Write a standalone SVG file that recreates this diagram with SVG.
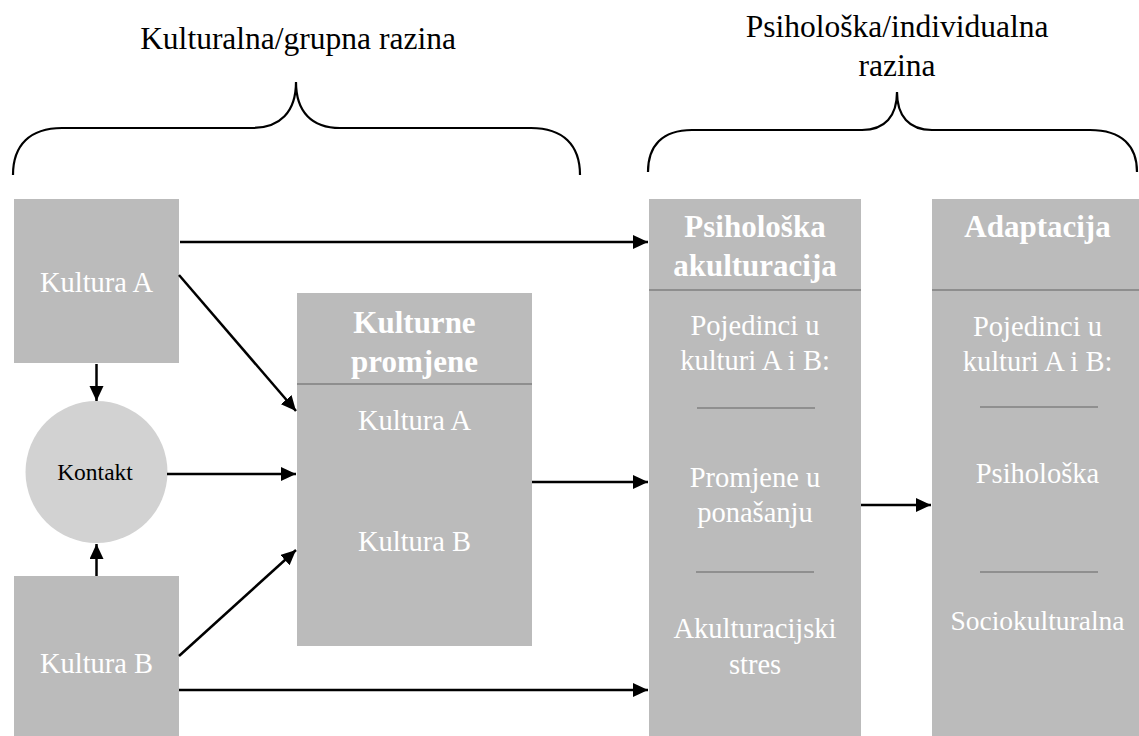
<svg xmlns="http://www.w3.org/2000/svg" width="1139" height="736" viewBox="0 0 1139 736" font-family="Liberation Serif, 'Times New Roman', serif">
<style>
.box{fill:#BBBBBB}
.circ{fill:#D2D2D2}
.div{stroke:#7F7F7F;stroke-width:1.5}
.sep{stroke:#808080;stroke-width:1.5}
.t{font-size:28.5px;fill:#FFFFFF;text-anchor:middle}
.b{font-size:31px;font-weight:bold;fill:#FFFFFF;text-anchor:middle}
.title{font-size:31.5px;fill:#000000;text-anchor:middle}
.k{font-size:23.5px;fill:#000000;text-anchor:middle}
.brace{fill:none;stroke:#000000;stroke-width:2.2}
.arr{fill:none;stroke:#000000;stroke-width:2.5;marker-end:url(#ah)}
</style>
<defs>
<marker id="ah" markerUnits="userSpaceOnUse" markerWidth="16" markerHeight="15" refX="15" refY="7" orient="auto">
<path d="M0,0 L15,7 L0,14 z" fill="#000000"/>
</marker>
</defs>
<rect width="1139" height="736" fill="#FFFFFF"/>

<g id="titles">
<text class="title" x="298" y="49">Kulturalna/grupna razina</text>
<text class="title" x="897" y="37">Psihološka/individualna</text>
<text class="title" x="897" y="76">razina</text>
<path class="brace" d="M13,175 C13,145 30,128 62,128 L252,128 C280,128 296,112 296,82 C296,112 312,128 340,128 L531,128 C563,128 580,145 580,175"/>
<path class="brace" d="M648,172 C648,146 662,130 692,130 L862,130 C885,130 897,116 897,92 C897,116 909,130 932,130 L1090,130 C1122,130 1137,146 1137,172"/>
</g>

<g id="kultura-a">
<rect class="box" x="14" y="199" width="165" height="164"/>
<text class="t" x="96.5" y="292">Kultura A</text>
</g>

<g id="kontakt">
<circle class="circ" cx="96.5" cy="472" r="71"/>
<text class="k" x="95" y="480">Kontakt</text>
</g>

<g id="kultura-b">
<rect class="box" x="14" y="576" width="165" height="160"/>
<text class="t" x="96.5" y="673">Kultura B</text>
</g>

<g id="kulturne-promjene">
<rect class="box" x="297" y="293" width="235" height="353"/>
<line class="div" x1="297" y1="384" x2="532" y2="384"/>
<text class="b" x="414.5" y="333">Kulturne</text>
<text class="b" x="414.5" y="372">promjene</text>
<text class="t" x="414.5" y="430">Kultura A</text>
<text class="t" x="414.5" y="551">Kultura B</text>
</g>

<g id="psiholoska-akulturacija">
<rect class="box" x="649" y="199" width="212" height="537"/>
<line class="div" x1="649" y1="290" x2="861" y2="290"/>
<text class="b" x="755" y="237">Psihološka</text>
<text class="b" x="755" y="276">akulturacija</text>
<text class="t" x="755" y="335">Pojedinci u</text>
<text class="t" x="755" y="370">kulturi A i B:</text>
<line class="sep" x1="697" y1="408" x2="815" y2="408"/>
<text class="t" x="755" y="487">Promjene u</text>
<text class="t" x="755" y="522">ponašanju</text>
<line class="sep" x1="696" y1="572" x2="814" y2="572"/>
<text class="t" x="755" y="638">Akulturacijski</text>
<text class="t" x="755" y="674">stres</text>
</g>

<g id="adaptacija">
<rect class="box" x="932" y="199" width="212" height="537"/>
<line class="div" x1="932" y1="290" x2="1139" y2="290"/>
<text class="b" x="1037.5" y="237">Adaptacija</text>
<text class="t" x="1037.5" y="336">Pojedinci u</text>
<text class="t" x="1037.5" y="371">kulturi A i B:</text>
<line class="sep" x1="980" y1="407" x2="1098" y2="407"/>
<text class="t" x="1037.5" y="483">Psihološka</text>
<line class="sep" x1="980" y1="572" x2="1098" y2="572"/>
<text class="t" x="1037.5" y="630" style="font-size:27.5px">Sociokulturalna</text>
</g>

<g id="connectors">
<line class="arr" x1="180" y1="242" x2="648" y2="242"/>
<line class="arr" x1="96.5" y1="364" x2="96.5" y2="401"/>
<line class="arr" x1="96.5" y1="576" x2="96.5" y2="544"/>
<line class="arr" x1="179" y1="275" x2="296" y2="411"/>
<line class="arr" x1="167" y1="474" x2="296" y2="474"/>
<line class="arr" x1="179" y1="656" x2="296" y2="550"/>
<line class="arr" x1="179" y1="690" x2="648" y2="690"/>
<line class="arr" x1="532" y1="482" x2="648" y2="482"/>
<line class="arr" x1="861" y1="505" x2="931" y2="505"/>
</g>
</svg>
